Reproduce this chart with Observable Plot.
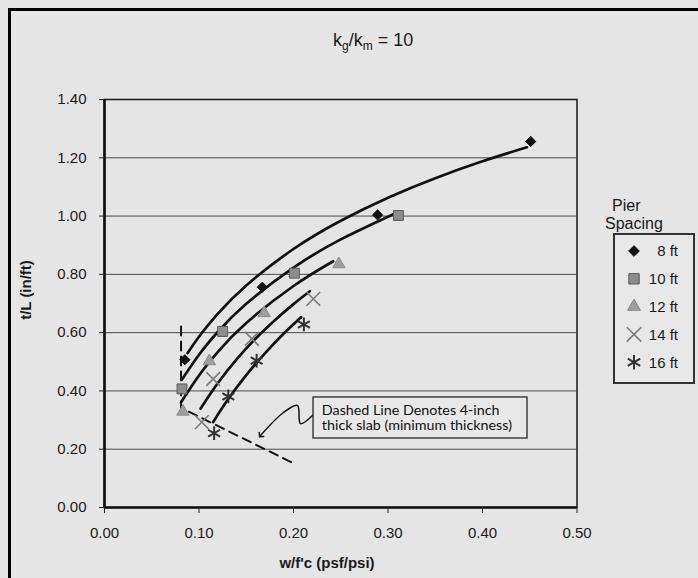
<!DOCTYPE html>
<html><head><meta charset="utf-8">
<script src="https://cdn.jsdelivr.net/npm/d3@7"></script>
<script src="https://cdn.jsdelivr.net/npm/@observablehq/plot@0.6"></script>
<style>
html,body{margin:0;padding:0;background:#e5e5e5;}
#chart{width:698px;height:578px;position:relative;overflow:hidden;background:#e5e5e5}
</style></head><body><div id="chart"></div>
<script>
// ---- data ----
const seriesNames = ["8 ft", "10 ft", "12 ft", "14 ft", "16 ft"];
const xTicks = [0, 0.1, 0.2, 0.3, 0.4, 0.5];
const yTicks = [0, 0.2, 0.4, 0.6, 0.8, 1.0, 1.2, 1.4];

// observed points
const p8x  = [0.085, 0.167, 0.289, 0.451];
const p8y  = [0.507, 0.756, 1.004, 1.256];
const p10x = [0.082, 0.125, 0.201, 0.311];
const p10y = [0.407, 0.604, 0.804, 1.002];
const p12x = [0.083, 0.111, 0.169, 0.248];
const p12y = [0.329, 0.502, 0.667, 0.835];
const p14x = [0.103, 0.115, 0.156, 0.221];
const p14y = [0.293, 0.441, 0.579, 0.716];
const p16x = [0.116, 0.131, 0.161, 0.211];
const p16y = [0.255, 0.381, 0.504, 0.628];

// trend curves
const c8x  = [0.088, 0.10, 0.12, 0.15, 0.20, 0.25, 0.30, 0.35, 0.40, 0.447];
const c8y  = [0.530, 0.586, 0.665, 0.762, 0.887, 0.984, 1.063, 1.130, 1.188, 1.236];
const c10x = [0.082, 0.10, 0.12, 0.15, 0.20, 0.25, 0.308];
const c10y = [0.439, 0.524, 0.603, 0.699, 0.823, 0.920, 1.010];
const c12x = [0.081, 0.10, 0.12, 0.15, 0.20, 0.242];
const c12y = [0.361, 0.453, 0.534, 0.633, 0.760, 0.845];
const c14x = [0.1016, 0.12, 0.14, 0.16, 0.18, 0.20, 0.2173];
const c14y = [0.339, 0.427, 0.509, 0.580, 0.642, 0.698, 0.742];
const c16x = [0.115, 0.13, 0.15, 0.17, 0.19, 0.208];
const c16y = [0.293, 0.368, 0.454, 0.530, 0.598, 0.653];

// dashed 4-inch slab line
const dashX = [0.081, 0.081, 0.198];
const dashY = [0.621, 0.342, 0.155];

// annotation
const noteLines = ["Dashed Line Denotes 4-inch", "thick slab (minimum thickness)"];
const noteArrowX = [0.2212, 0.2074, 0.2042, 0.1894, 0.1651];
const noteArrowY = [0.319, 0.288, 0.350, 0.326, 0.247];

// ---- build tables ----
const zip = (xs, ys, s) => xs.map((x, i) => ({x, y: ys[i], s}));
const pointSets = [[p8x,p8y],[p10x,p10y],[p12x,p12y],[p14x,p14y],[p16x,p16y]];
const curveSets = [[c8x,c8y],[c10x,c10y],[c12x,c12y],[c14x,c14y],[c16x,c16y]];
const points = pointSets.map((p, i) => zip(p[0], p[1], seriesNames[i]));
const curves = curveSets.flatMap((c, i) => zip(c[0], c[1], seriesNames[i]));
const dash = zip(dashX, dashY, "dash");
const arrow = zip(noteArrowX, noteArrowY, "note");

const styles = [
  {symbol: "diamond2", r: 4.6, fill: "#111", stroke: "#111", strokeWidth: 1},
  {symbol: "square", r: 5.6, fill: "#8c8c8c", stroke: "#5a5a5a", strokeWidth: 1},
  {symbol: "triangle", r: 4.6, fill: "#9e9e9e", stroke: "#8a8a8a", strokeWidth: 1},
  {symbol: "times", r: 6.3, fill: "none", stroke: "#7a7a7a", strokeWidth: 1.6},
  {symbol: "asterisk", r: 6.5, fill: "none", stroke: "#333", strokeWidth: 2}
];

const fmt = d3.format(".2f");
const font = "'Liberation Sans', Arial, sans-serif";

const plot = Plot.plot({
  width: 698, height: 578,
  marginLeft: 104, marginRight: 121.5, marginTop: 99, marginBottom: 71,
  style: {background: "transparent", fontFamily: font, fontSize: "15px", color: "#1a1a1a", overflow: "visible"},
  x: {domain: [0, 0.5]},
  y: {domain: [0, 1.4]},
  marks: [
    Plot.gridY(yTicks, {stroke: "#3a3a3a", strokeOpacity: 0.9, strokeWidth: 1}),
    Plot.frame({stroke: "#222", strokeWidth: 1.6}),
    Plot.ruleX([0], {stroke: "#111", strokeWidth: 2.6}),
    Plot.ruleY([0], {stroke: "#111", strokeWidth: 2.6}),
    Plot.axisX({ticks: xTicks, tickFormat: fmt, tickSize: 6, tickPadding: 14, label: null, fontSize: 15, stroke: "#222"}),
    Plot.axisY({ticks: yTicks, tickFormat: fmt, tickSize: 5, tickPadding: 13, label: null, fontSize: 15, stroke: "#222"}),
    Plot.line(curves, {x: "x", y: "y", z: "s", stroke: "#111", strokeWidth: 2.7, curve: "natural"}),
    Plot.line(dash, {x: "x", y: "y", stroke: "#111", strokeWidth: 2, strokeDasharray: "9,6"}),
    Plot.line(arrow, {x: "x", y: "y", stroke: "#111", strokeWidth: 1.5, curve: "catmull-rom", markerEnd: "arrow"}),
    ...points.map((d, i) => Plot.dot(d, {x: "x", y: "y", ...styles[i]})),
    Plot.rect([0], {x1: 0.2212, x2: 0.4476, y1: 0.2368, y2: 0.3775, fill: "#e8e8e8", stroke: "#333", strokeWidth: 1.4}),
    Plot.text(noteLines, {x: 0.2300, y: (d, i) => [0.3345, 0.2805][i], text: d => d, textAnchor: "start", fontFamily: "Lato, 'Open Sans', sans-serif", fontSize: 14.3, fill: "#111"})
  ]
});

const svg = d3.select(plot);
// page border (top & left)
svg.append("line").attr("x1", 9.5).attr("x2", 698).attr("y1", 9.5).attr("y2", 9.5).attr("stroke", "#000").attr("stroke-width", 3);
svg.append("line").attr("x1", 9.5).attr("x2", 9.5).attr("y1", 8).attr("y2", 578).attr("stroke", "#000").attr("stroke-width", 3);

// title
const t = svg.append("text").attr("x", 333).attr("y", 46).attr("text-anchor", "start").attr("font-family", font).attr("font-size", 18).attr("fill", "#1a1a1a");
t.append("tspan").text("k");
t.append("tspan").attr("font-size", 12).attr("dy", 4).text("g");
t.append("tspan").attr("dy", -4).text("/k");
t.append("tspan").attr("font-size", 12).attr("dy", 4).text("m");
t.append("tspan").attr("dy", -4).text(" = 10");

// axis titles
svg.append("text").attr("x", 327).attr("y", 568).attr("text-anchor", "middle").attr("font-family", font)
  .attr("font-weight", "bold").attr("font-size", 15).attr("fill", "#1a1a1a").text("w/f'c (psf/psi)");
svg.append("text").attr("transform", "translate(31,290) rotate(-90)").attr("text-anchor", "middle").attr("font-family", font)
  .attr("font-weight", "bold").attr("font-size", 15).attr("fill", "#1a1a1a").text("t/L (in/ft)");

// legend
svg.append("text").attr("x", 612).attr("y", 211).attr("text-anchor", "start").attr("font-family", font).attr("font-size", 16).attr("fill", "#1a1a1a").text("Pier");
svg.append("text").attr("x", 605).attr("y", 229).attr("text-anchor", "start").attr("font-family", font).attr("font-size", 16).attr("fill", "#1a1a1a").text("Spacing");
svg.append("rect").attr("x", 614).attr("y", 234).attr("width", 80).attr("height", 149)
  .attr("fill", "#e8e8e8").attr("stroke", "#333").attr("stroke-width", 2);
const symMap = {diamond2: d3.symbolDiamond2, square: d3.symbolSquare, triangle: d3.symbolTriangle, times: d3.symbolTimes, asterisk: d3.symbolAsterisk};
seriesNames.forEach((name, i) => {
  const cy = 251 + i * 27.8;
  const st = styles[i];
  svg.append("path").attr("transform", `translate(634,${cy})`)
    .attr("d", d3.symbol(symMap[st.symbol], Math.PI * st.r * st.r * 1.1)())
    .attr("fill", st.fill).attr("stroke", st.stroke).attr("stroke-width", st.strokeWidth);
  svg.append("text").attr("x", 678).attr("y", cy).attr("dy", "0.36em").attr("text-anchor", "end")
    .attr("font-family", font).attr("font-size", 15).attr("fill", "#1a1a1a").text(name);
});

document.getElementById("chart").appendChild(plot);
</script></body></html>
